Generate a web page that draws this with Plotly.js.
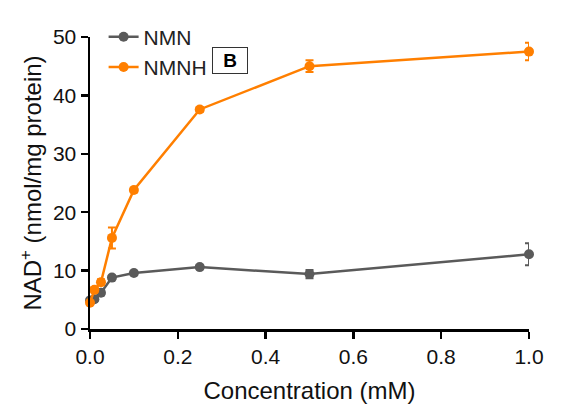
<!DOCTYPE html>
<html>
<head>
<meta charset="utf-8">
<script src="https://cdn.plot.ly/plotly-3.0.1.min.js"></script>
<style>
  html, body { margin: 0; padding: 0; background: #fff; }
  #chart { width: 570px; height: 419px; }
</style>
</head>
<body>
<div id="chart"></div>
<script>
// Concentrations (mM) and NAD+ levels.
const concentration = [0, 0.01, 0.025, 0.05, 0.1, 0.25, 0.5, 1.0];
const nmnValues = [4.9, 5.1, 6.2, 8.8, 9.6, 10.6, 9.4, 12.8];
const nmnErrors = [0.3, 0.3, 0.4, 0.3, 0.3, 0.3, 0.7, 1.9];
const nmnhValues = [4.5, 6.7, 8.0, 15.6, 23.8, 37.6, 45.0, 47.5];
const nmnhErrors = [0.3, 0.4, 0.5, 1.8, 0.4, 0.4, 1.0, 1.5];

const grey = '#5a5a5a';
const orange = '#ff7f00';

function makeTrace(name, y, err, color, group) {
  return {
    x: concentration,
    y: y,
    name: name,
    legendgroup: group,
    type: 'scatter',
    mode: 'lines+markers',
    cliponaxis: false,
    line: {color: color, width: 2.5},
    marker: {color: color, size: 10},
    error_y: {type: 'data', array: err, visible: true, color: color, thickness: 2, width: 4}
  };
}

const data = [
  makeTrace('NMN', nmnValues, nmnErrors, grey, 'a'),
  makeTrace('NMNH', nmnhValues, nmnhErrors, orange, 'b')
];

const axisFont = {family: 'Liberation Sans, Arial, sans-serif', size: 21, color: '#111'};

const layout = {
  width: 570,
  height: 419,
  margin: {l: 90, r: 41, t: 37, b: 90},
  paper_bgcolor: '#fff',
  plot_bgcolor: '#fff',
  font: {family: 'Liberation Sans, Arial, sans-serif', size: 21, color: '#111'},
  showlegend: true,
  legend: {
    x: 0.031, y: 1.07, xanchor: 'left', yanchor: 'top',
    traceorder: 'grouped', tracegroupgap: 0,
    font: {size: 21, color: '#222'},
    bgcolor: 'rgba(0,0,0,0)'
  },
  xaxis: {
    range: [0, 1.0],
    tickvals: [0, 0.2, 0.4, 0.6, 0.8, 1.0],
    ticktext: ['0.0', '0.2', '0.4', '0.6', '0.8', '1.0'],
    showgrid: false, zeroline: false,
    showline: true, linecolor: '#000', linewidth: 2.5,
    ticks: 'outside', ticklen: 7, tickwidth: 2.5, tickcolor: '#000',
    tickfont: axisFont,
    title: {text: 'Concentration (mM)', font: {size: 24, color: '#111'}, standoff: 16}
  },
  yaxis: {
    range: [0, 50],
    tickvals: [0, 10, 20, 30, 40, 50],
    showgrid: false, zeroline: false,
    showline: true, linecolor: '#000', linewidth: 2.5,
    ticks: 'outside', ticklen: 7, tickwidth: 2.5, tickcolor: '#000',
    tickfont: axisFont,
    title: {text: 'NAD<sup>+</sup> (nmol/mg protein)', font: {size: 24, color: '#111'}, standoff: 5}
  },
  annotations: [{
    xref: 'paper', yref: 'paper',
    x: 0.32, y: 0.9195, xanchor: 'center', yanchor: 'middle',
    text: '<b>B</b>',
    showarrow: false,
    font: {size: 19, color: '#000'},
    bordercolor: '#333', borderwidth: 1, borderpad: 2,
    width: 30,
    bgcolor: '#fff'
  }]
};

Plotly.newPlot('chart', data, layout, {displayModeBar: false, staticPlot: true});
</script>
</body>
</html>
